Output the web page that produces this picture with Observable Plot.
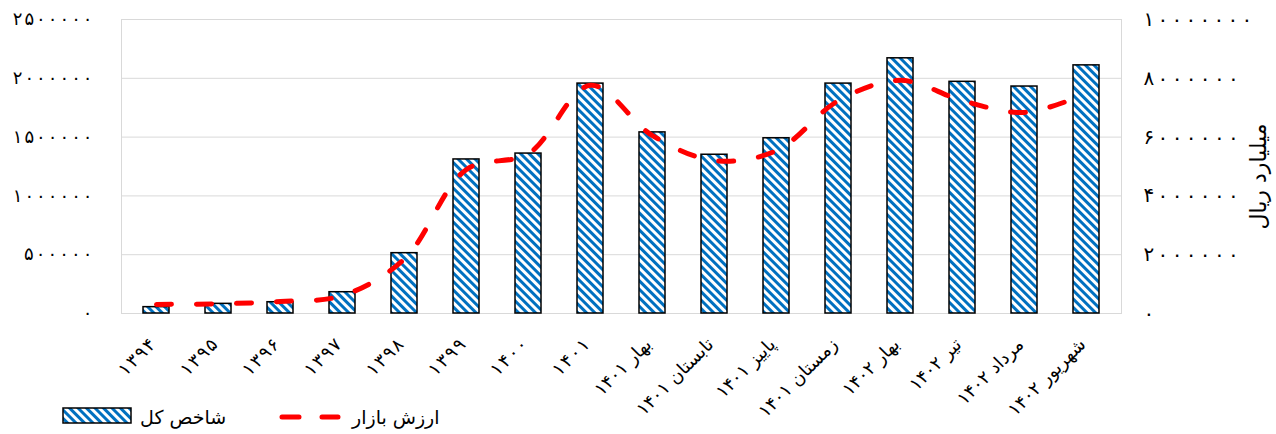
<!DOCTYPE html>
<html><head><meta charset="utf-8">
<script src="https://cdn.jsdelivr.net/npm/d3@7"></script>
<script src="https://cdn.jsdelivr.net/npm/@observablehq/plot@0.6"></script>
<style>
body{margin:0;background:#fff;font-family:"DejaVu Sans",sans-serif;}
#wrap{position:relative;width:1276px;height:434px;overflow:hidden;}
#legend{position:absolute;left:0;top:400px;}
</style></head><body>
<svg width="0" height="0" style="position:absolute"><defs>
<pattern id="stripes" patternUnits="userSpaceOnUse" width="6" height="6" patternTransform="rotate(-45)">
<rect width="6" height="6" fill="#fff"/><rect width="3" height="6" fill="#0070c0"/>
</pattern></defs></svg>
<div id="wrap"></div>
<script>
const categories = ["۱۳۹۴","۱۳۹۵","۱۳۹۶","۱۳۹۷","۱۳۹۸","۱۳۹۹","۱۴۰۰","۱۴۰۱","بهار ۱۴۰۱","تابستان ۱۴۰۱","پاییز ۱۴۰۱","زمستان ۱۴۰۱","بهار ۱۴۰۲","تیر ۱۴۰۲","مرداد ۱۴۰۲","شهریور ۱۴۰۲"];
const indexValues = [54000, 82000, 96000, 181000, 513000, 1310000, 1360000, 1955000, 1540000, 1350000, 1490000, 1955000, 2170000, 1970000, 1930000, 2110000];
const marketValues = [310000, 330000, 410000, 610000, 1860000, 4900000, 5440000, 7760000, 6050000, 5200000, 5540000, 7240000, 7930000, 7240000, 6840000, 7480000];
const leftTicks = [0, 500000, 1000000, 1500000, 2000000, 2500000];
const rightTicks = [0, 2000000, 4000000, 6000000, 8000000, 10000000];
const seriesNames = ["شاخص کل", "ارزش بازار"];
const rightAxisTitle = "میلیارد ریال";

const ratio = leftTicks[leftTicks.length-1] / rightTicks[rightTicks.length-1];
const fa = n => String(n).replace(/\d/g, d => "۰۱۲۳۴۵۶۷۸۹"[+d]);
const data = categories.map((c,i)=>({cat:c, index:indexValues[i], market:marketValues[i]}));

const plot = Plot.plot({
  width:1276, height:434, marginLeft:121, marginRight:155, marginTop:19, marginBottom:121,
  style:{fontFamily:"DejaVu Sans, sans-serif", fontSize:"16px", color:"#000", background:"transparent"},
  x:{domain:categories, paddingInner:0.58, paddingOuter:0.29},
  y:{domain:[0, leftTicks[leftTicks.length-1]]},
  marks:[
    Plot.gridY(leftTicks,{stroke:"#d9d9d9", strokeOpacity:1}),
    Plot.frame({stroke:"#d9d9d9"}),
    Plot.barY(data,{x:"cat", y:"index", fill:"url(#stripes)", stroke:"#000", strokeWidth:1.5}),
    Plot.line(data,{x:"cat", y:d=>d.market*ratio, stroke:"#ff0000", strokeWidth:5, strokeDasharray:"15,25", strokeLinecap:"round", curve:"catmull-rom"}),
    Plot.axisY(leftTicks,{anchor:"left", tickSize:0, tickPadding:29, tickFormat:fa, label:null, fontSize:18}),
    Plot.axisY(rightTicks.map(v=>v*ratio),{anchor:"right", tickSize:0, tickPadding:22, tickFormat:v=>fa(Math.round(v/ratio)), label:null, fontSize:20}),
    Plot.axisX({tickRotate:-45, tickSize:0, tickPadding:28, dx:-4, label:null, fontSize:18}),
    Plot.text([rightAxisTitle],{frameAnchor:"right", dx:137, dy:10, rotate:-90, textAnchor:"middle", text:d=>d, fontSize:22})
  ]
});
document.getElementById("wrap").appendChild(plot);

// widen the Persian digit tick labels to match the reference spacing
d3.select(plot).selectAll('g[aria-label="y-axis tick label"]').each(function(){
  const g = this;
  const anchorEnd = g.getAttribute("text-anchor") === "end";
  const per = anchorEnd ? 11.4 : 13.6;
  d3.select(g).selectAll("text").each(function(){
    const n = this.textContent.length;
    if (n > 1) {
      this.setAttribute("textLength", n * per);
      this.setAttribute("lengthAdjust", "spacing");
    }
  });
});
d3.select(plot).selectAll('g[aria-label="x-axis tick label"] text').each(function(){
  const s = this.textContent;
  if (/^[۰-۹]+$/.test(s)) {
    this.setAttribute("textLength", s.length * 11);
    this.setAttribute("lengthAdjust", "spacing");
  }
});

const leg = d3.select("#wrap").append("svg").attr("id","legend").attr("width",500).attr("height",34);
leg.append("rect").attr("x",63).attr("y",8).attr("width",68).attr("height",15)
  .attr("fill","url(#stripes)").attr("stroke","#000").attr("stroke-width",1.5);
leg.append("text").attr("x",140).attr("y",24).attr("font-size",19).text(seriesNames[0]);
leg.append("line").attr("x1",282).attr("x2",338).attr("y1",17).attr("y2",17)
  .attr("stroke","#ff0000").attr("stroke-width",5).attr("stroke-linecap","round").attr("stroke-dasharray","17,23");
leg.append("text").attr("x",352).attr("y",24).attr("font-size",19).text(seriesNames[1]);
</script>
</body></html>
